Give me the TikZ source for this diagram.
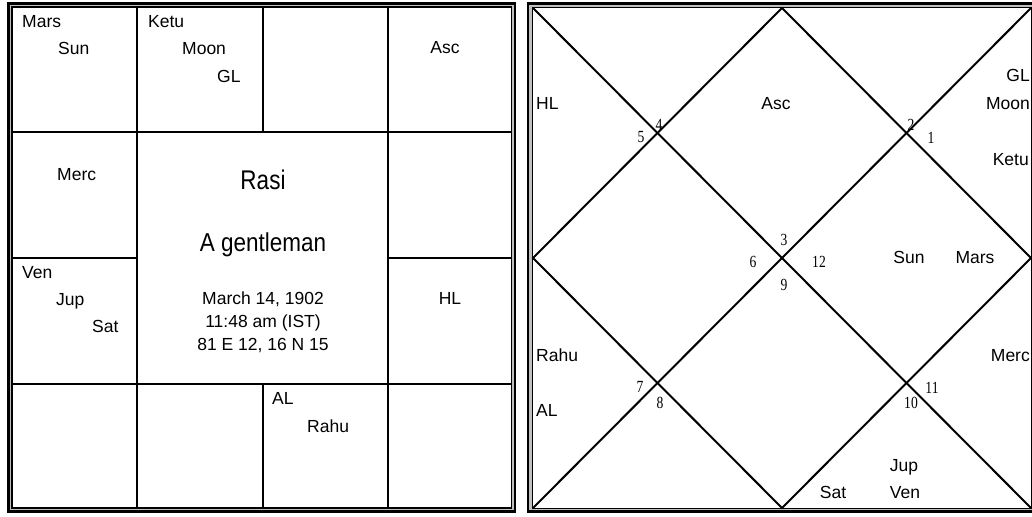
\documentclass[tikz,border=0pt]{standalone}
\usepackage{fontspec}
\setmainfont{Liberation Sans}
\newfontfamily\numfont{Liberation Serif}
\begin{document}
\begin{tikzpicture}[x=1pt,y=-1pt,
  grid/.style={line width=2pt,black},
  pl/.style={inner sep=0pt,font=\fontsize{17.5}{17.5}\selectfont},
  plw/.style={pl,anchor=base west},
  plc/.style={pl,anchor=base},
  ple/.style={pl,anchor=base east},
  big/.style={inner sep=0pt,anchor=base,font=\fontsize{22.5}{22.5}\selectfont},
  info/.style={inner sep=0pt,anchor=base,font=\fontsize{17.5}{17.5}\selectfont},
  num/.style={inner sep=0pt,font=\numfont\fontsize{17}{17}\selectfont}]
\useasboundingbox (0,0) rectangle (1032,516);
\fill[white] (0,0) rectangle (1032,516);
% ---------- left chart frame ----------
\draw[line width=4pt,black!25] (10.3,5.4) rectangle (513.4,509.6);
\draw[line width=2.8pt] (8.7,3.7) rectangle (515,511.3);
\draw[line width=1.4pt] (12,7.2) rectangle (511.7,508);
% grid
\coordinate (L1) at (137,7.2);  \coordinate (L1b) at (137,508);
\coordinate (L3) at (387.5,7.2); \coordinate (L3b) at (387.5,508);
\draw[grid] (12,132) -- (511.7,132);
\draw[grid] (12,383.5) -- (511.7,383.5);
\draw[grid] (L1) -- (L1b);
\draw[grid] (L3) -- (L3b);
\draw[grid] (262.5,7.2) -- (262.5,132);
\draw[grid] (262.5,383.5) -- (262.5,508);
\draw[grid] (12,258) -- (137,258);
\draw[grid] (387.5,258) -- (511.7,258);
% left chart texts
\node[plw] (lmars) at (22,28) {Mars};
\node[plw] (lsun) at (58,55) {Sun};
\node[plw] (lketu) at (148,28) {Ketu};
\node[plw] (lmoon) at (182,55) {Moon};
\node[plw] (lgl) at (217,83) {GL};
\node[plc] (lasc) at (445,54) {Asc};
\node[plw] (lmerc) at (57,180) {Merc};
\node[plw] (lven) at (22,278) {Ven};
\node[plw] (ljup) at (56,305) {Jup};
\node[plw] (lsat) at (92,332) {Sat};
\node[plc] (lhl) at (450,304) {HL};
\node[plw] (lal) at (272,404) {AL};
\node[plw] (lrahu) at (307,432) {Rahu};
\node[big] (rasi) at (263,189) {\scalebox{1}[1.2]{Rasi}};
\node[big] (gent) at (263,251) {\scalebox{1}[1.15]{A gentleman}};
\node[info] (date) at (263,304) {March 14, 1902};
\node[info] (time) at (263,327) {11:48 am (IST)};
\node[info] (place) at (263,350) {81 E 12, 16 N 15};
% ---------- right chart frame ----------
\draw[line width=4pt,black!25] (530.5,5.4) rectangle (1036,509.6);
\draw[line width=2.8pt] (528,3.7) rectangle (1040,511.3);
\draw[line width=1.4pt] (532.7,7.5) rectangle (1031.3,508.3);
\coordinate (TL) at (533,8);
\coordinate (TR) at (1031,8);
\coordinate (BL) at (533,508);
\coordinate (BR) at (1031,508);
\coordinate (TM) at (782,8);
\coordinate (RM) at (1031,258);
\coordinate (BM) at (782,508);
\coordinate (LM) at (533,258);
\draw[grid] (TL) -- (BR);
\draw[grid] (BL) -- (TR);
\draw[grid] (TM) -- (RM) -- (BM) -- (LM) -- cycle;
% house numbers
\node[num] (n4) at (659,125) {\scalebox{0.8}[1]{4}};
\node[num] (n5) at (641,137) {\scalebox{0.8}[1]{5}};
\node[num] (n2) at (911,125) {\scalebox{0.8}[1]{2}};
\node[num] (n1) at (931,138) {\scalebox{0.8}[1]{1}};
\node[num] (n3) at (784,240) {\scalebox{0.8}[1]{3}};
\node[num] (n6) at (753,262) {\scalebox{0.8}[1]{6}};
\node[num] (n12) at (819,262) {\scalebox{0.8}[1]{12}};
\node[num] (n9) at (784,285) {\scalebox{0.8}[1]{9}};
\node[num] (n7) at (640,387) {\scalebox{0.8}[1]{7}};
\node[num] (n8) at (660,403) {\scalebox{0.8}[1]{8}};
\node[num] (n11) at (932,388) {\scalebox{0.8}[1]{11}};
\node[num] (n10) at (911,403) {\scalebox{0.8}[1]{10}};
% right chart texts
\node[plw] (rhl) at (536,110) {HL};
\node[plc] (rasc) at (776,110) {Asc};
\node[ple] (rgl) at (1030,82) {GL};
\node[ple] (rmoon) at (1030,110) {Moon};
\node[ple] (rketu) at (1029,165) {Ketu};
\node[plc] (rsun) at (909,263) {Sun};
\node[plc] (rmars) at (975,263) {Mars};
\node[ple] (rmerc) at (1030,361) {Merc};
\node[plw] (rrahu) at (536,361) {Rahu};
\node[plw] (ral) at (536,416) {AL};
\node[plc] (rjup) at (904,471) {Jup};
\node[plc] (rsat) at (833,498) {Sat};
\node[plc] (rven) at (905,498) {Ven};
\end{tikzpicture}
\end{document}
